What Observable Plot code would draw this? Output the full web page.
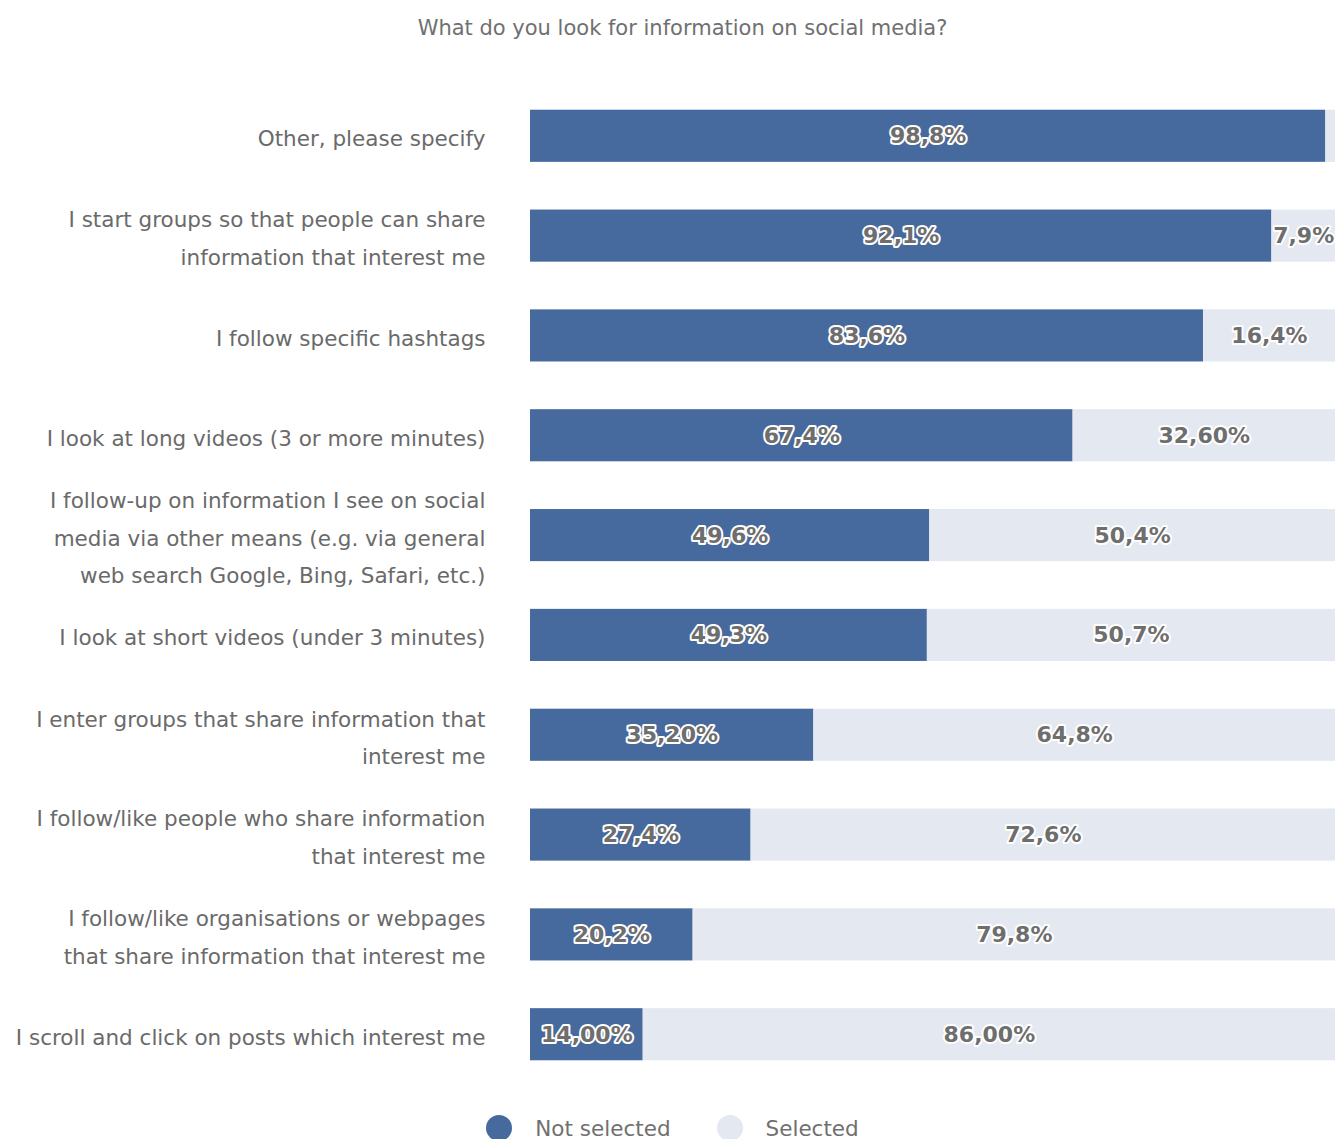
<!DOCTYPE html>
<html>
<head>
<meta charset="utf-8">
<script src="https://cdn.jsdelivr.net/npm/d3@7"></script>
<script src="https://cdn.jsdelivr.net/npm/@observablehq/plot@0.6"></script>
<style>
  body { margin: 0; background: #fff; font-family: "DejaVu Sans", sans-serif; }
  #title { height: 50px; width: 1335px; box-sizing: border-box; padding-left: 30px; text-align: center; line-height: 56px; font-size: 21px; color: #707070; }
  #legend { width: 1335px; height: 40px; display: flex; justify-content: center; align-items: center; padding-left: 10px; box-sizing: border-box; font-size: 21.5px; color: #707070; }
  .item { display: flex; align-items: center; margin: 0 23px; }
  .dot { width: 26px; height: 26px; border-radius: 50%; margin-right: 23px; }
</style>
</head>
<body>
<div id="title">What do you look for information on social media?</div>
<div id="chart"></div>
<div id="legend"></div>
<script>
const categories = [
  "Other, please specify",
  "I start groups so that people can share information that interest me",
  "I follow specific hashtags",
  "I look at long videos (3 or more minutes)",
  "I follow-up on information I see on social media via other means (e.g. via general web search Google, Bing, Safari, etc.)",
  "I look at short videos (under 3 minutes)",
  "I enter groups that share information that interest me",
  "I follow/like people who share information that interest me",
  "I follow/like organisations or webpages that share information that interest me",
  "I scroll and click on posts which interest me"
];
const tickLabels = [
  "Other, please specify",
  "I start groups so that people can share\ninformation that interest me",
  "I follow specific hashtags",
  "I look at long videos (3 or more minutes)",
  "I follow-up on information I see on social\nmedia via other means (e.g. via general\nweb search Google, Bing, Safari, etc.)",
  "I look at short videos (under 3 minutes)",
  "I enter groups that share information that\ninterest me",
  "I follow/like people who share information\nthat interest me",
  "I follow/like organisations or webpages\nthat share information that interest me",
  "I scroll and click on posts which interest me"
];
const seriesNames = ["Not selected", "Selected"];
const notSelected = [98.8, 92.1, 83.6, 67.4, 49.6, 49.3, 35.2, 27.4, 20.2, 14.0];
const selected = [1.2, 7.9, 16.4, 32.6, 50.4, 50.7, 64.8, 72.6, 79.8, 86.0];
const notSelectedLabels = ["98,8%", "92,1%", "83,6%", "67,4%", "49,6%", "49,3%", "35,20%", "27,4%", "20,2%", "14,00%"];
const selectedLabels = ["", "7,9%", "16,4%", "32,60%", "50,4%", "50,7%", "64,8%", "72,6%", "79,8%", "86,00%"];
const colors = ["#46699e", "#e3e8f1"];

const rows = [];
categories.forEach((c, i) => {
  rows.push({q: c, series: seriesNames[0], value: notSelected[i], label: notSelectedLabels[i]});
  rows.push({q: c, series: seriesNames[1], value: selected[i], label: selectedLabels[i]});
});
const tickMap = new Map(categories.map((c, i) => [c, tickLabels[i]]));

const chart = Plot.plot({
  width: 1335,
  height: 1058,
  marginTop: 12,
  marginBottom: 0,
  marginLeft: 530,
  marginRight: 0,
  style: {fontFamily: "DejaVu Sans, sans-serif", background: "#fff"},
  x: {domain: [0, 100], axis: null},
  y: {domain: categories, padding: 0.478, round: false, label: null},
  color: {domain: seriesNames, range: colors},
  marks: [
    Plot.axisY({tickSize: 0, tickPadding: 45, dy: -2, tickFormat: d => tickMap.get(d), fontSize: 21.5, lineHeight: 1.74, fill: "#6a6a6a", label: null}),
    Plot.barX(rows, {y: "q", x: "value", fill: "series", order: seriesNames}),
    Plot.text(rows, Plot.stackX({y: "q", x: "value", z: "series", order: seriesNames, text: "label",
      fill: "#6e6e6e", stroke: "white", strokeWidth: 4, paintOrder: "stroke", fontSize: 22, fontWeight: "bold"}))
  ]
});
document.getElementById("chart").appendChild(chart);

const legend = document.getElementById("legend");
seriesNames.forEach((s, i) => {
  const it = document.createElement("div");
  it.className = "item";
  it.innerHTML = `<div class="dot" style="background:${colors[i]}"></div><span>${s}</span>`;
  legend.appendChild(it);
});
</script>
</body>
</html>
